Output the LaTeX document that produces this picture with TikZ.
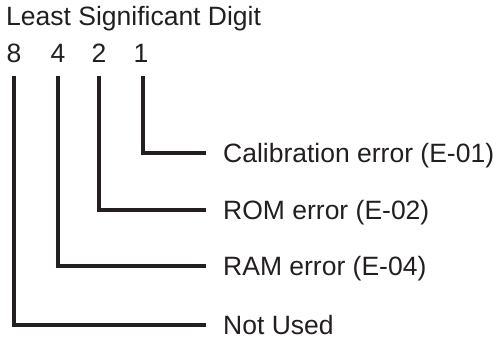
\documentclass[tikz,border=0pt]{standalone}
\usepackage{fontspec}
\setmainfont{Liberation Sans}
\definecolor{ink}{HTML}{231F20}
\begin{document}
\begin{tikzpicture}[x=1pt,y=1pt,
  txt/.style={inner sep=0pt, text=ink, font=\fontsize{26.5}{30}\selectfont},
  lbl/.style={txt, anchor=west, text height=19pt, text depth=0pt},
  conn/.style={draw=ink, line width=3.4pt}]
\useasboundingbox (0,0) rectangle (500,340);
\node[txt, anchor=base west] (title) at (6,314) {Least Significant Digit};
\node[txt, anchor=base] (d8) at (14,277) {8};
\node[txt, anchor=base] (d4) at (58,277) {4};
\node[txt, anchor=base] (d2) at (99,277) {2};
\node[txt, anchor=base] (d1) at (141,277) {1};
\node[lbl] (l1) at (223,187) {Calibration error (E-01)};
\node[lbl] (l2) at (223,130) {ROM error (E-02)};
\node[lbl] (l4) at (223,74) {RAM error (E-04)};
\node[lbl] (l8) at (223,15) {Not Used};
\coordinate (t8) at ([yshift=-13pt]d8.base);
\coordinate (t4) at ([yshift=-13pt]d4.base);
\coordinate (t2) at ([yshift=-13pt]d2.base);
\coordinate (t1) at ([xshift=2pt,yshift=-13pt]d1.base);
\draw[conn] (t1) |- ([xshift=-17pt]l1.west);
\draw[conn] (t2) |- ([xshift=-17pt]l2.west);
\draw[conn] (t4) |- ([xshift=-17pt]l4.west);
\draw[conn] (t8) |- ([xshift=-17pt]l8.west);
\end{tikzpicture}
\end{document}
